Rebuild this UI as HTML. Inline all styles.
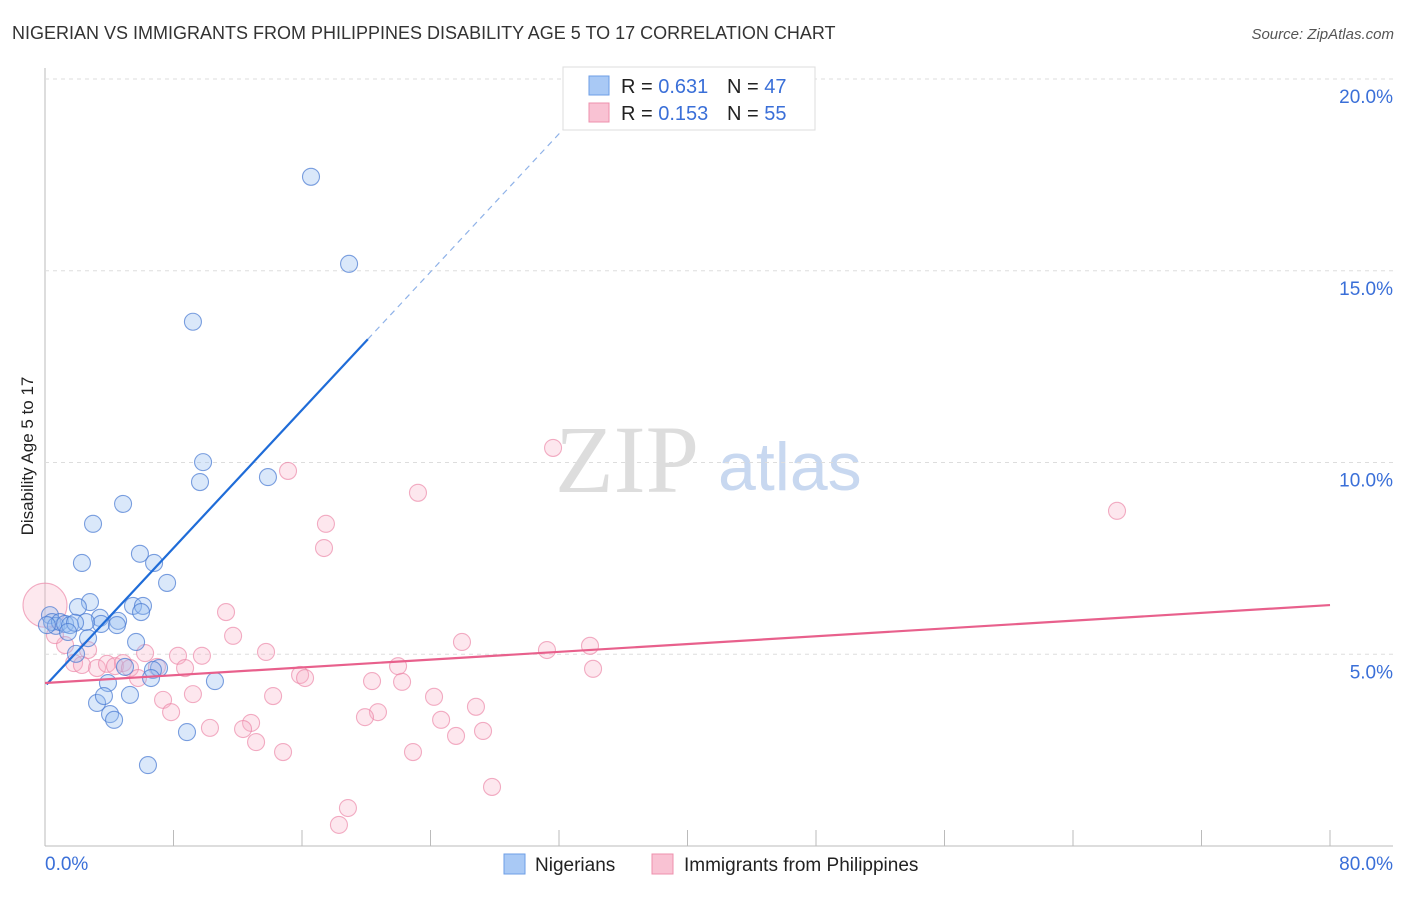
<!DOCTYPE html>
<html><head><meta charset="utf-8"><style>
body{margin:0;background:#fff;font-family:"Liberation Sans",sans-serif}
</style></head><body>
<svg id="c" width="1406" height="892" xmlns="http://www.w3.org/2000/svg">
<text x="12" y="39" font-size="18" fill="#333">NIGERIAN VS IMMIGRANTS FROM PHILIPPINES DISABILITY AGE 5 TO 17 CORRELATION CHART</text>
<text x="1394" y="39" font-size="15" fill="#555" font-style="italic" text-anchor="end">Source: ZipAtlas.com</text>
<text x="33" y="456" font-size="17" fill="#222" transform="rotate(-90 33 456)" text-anchor="middle">Disability Age 5 to 17</text>
<text x="555" y="492" font-size="96" fill="#ddd" font-family="Liberation Serif,serif">ZIP</text>
<text x="718" y="490" font-size="68" fill="#c8d8f0">atlas</text>
<g id="grid"></g><g id="pts"></g><g id="lines"></g>
<g>
<rect x="563" y="67" width="252" height="63" fill="#fff" stroke="#ddd"/>
<rect x="589" y="76" width="20" height="19" fill="#a9c9f5" stroke="#6d9ee6"/>
<rect x="589" y="103" width="20" height="19" fill="#f9c2d3" stroke="#ee90ad"/>
<text x="621" y="93" font-size="20" fill="#222">R = <tspan fill="#3a6fd8">0.631</tspan></text>
<text x="727" y="93" font-size="20" fill="#222">N = <tspan fill="#3a6fd8">47</tspan></text>
<text x="621" y="120" font-size="20" fill="#222">R = <tspan fill="#3a6fd8">0.153</tspan></text>
<text x="727" y="120" font-size="20" fill="#222">N = <tspan fill="#3a6fd8">55</tspan></text>
</g>
<g>
<rect x="504" y="854" width="21" height="20" fill="#a9c9f5" stroke="#6d9ee6"/>
<text x="535" y="871" font-size="19" fill="#222">Nigerians</text>
<rect x="652" y="854" width="21" height="20" fill="#f9c2d3" stroke="#ee90ad"/>
<text x="684" y="871" font-size="19" fill="#222">Immigrants from Philippines</text>
</g>
</svg>
<script>
const xTicks=[0,8,16,24,32,40,48,56,64,72,80];
const yTicks=[5,10,15,20];
const blueX=[16.56,18.93,9.21,9.84,9.65,13.88,4.86,2.99,2.30,5.91,6.79,7.60,2.80,2.05,5.48,6.10,5.98,3.42,4.55,3.49,2.55,4.48,0.31,0.44,0.68,0.93,1.25,1.56,1.87,0.12,1.43,2.68,5.67,1.93,7.10,6.72,4.98,3.92,6.60,10.58,3.24,3.67,5.29,4.05,4.30,8.84,6.41];
const blueY=[17.45,15.18,13.67,10.01,9.49,9.62,8.92,8.40,7.38,7.62,7.38,6.86,6.36,6.23,6.26,6.26,6.10,5.95,5.87,5.79,5.84,5.76,6.02,5.84,5.74,5.84,5.79,5.76,5.82,5.76,5.58,5.42,5.32,5.01,4.64,4.59,4.67,4.25,4.38,4.30,3.73,3.91,3.94,3.44,3.29,2.97,2.11];
const pinkX=[31.63,66.74,15.13,23.22,17.49,17.37,11.27,11.71,25.96,33.93,31.25,13.76,6.23,8.28,9.77,2.68,1.25,0.62,0,1.81,2.30,3.24,3.86,4.36,4.86,5.29,6.97,8.72,5.79,21.98,34.12,15.88,16.19,20.36,22.23,9.21,14.20,24.22,7.35,26.83,7.85,20.73,19.92,24.66,12.83,10.27,12.33,27.27,25.59,13.14,14.82,22.91,27.83,18.86,18.30];
const pinkY=[10.38,8.74,9.78,9.21,8.40,7.77,6.10,5.48,5.32,5.22,5.11,5.06,5.03,4.96,4.96,5.11,5.24,5.50,6.28,4.77,4.72,4.64,4.75,4.69,4.77,4.64,4.67,4.64,4.38,4.69,4.62,4.46,4.38,4.30,4.28,3.96,3.91,3.89,3.81,3.63,3.49,3.49,3.36,3.29,3.21,3.08,3.05,3.00,2.87,2.71,2.45,2.45,1.54,0.99,0.55];
const blueTrend=[4.17,0.45];
const pinkTrend=[4.25,0.0254];
const X=v=>45+v/80*1285, Y=v=>846-v*38.35;
const NS='http://www.w3.org/2000/svg';
function mk(p,t,a){const e=document.createElementNS(NS,t);for(const k in a)e.setAttribute(k,a[k]);p.appendChild(e);return e;}
const g=document.getElementById('grid');
const ax=mk(g,'line',{x1:45,y1:68,x2:45,y2:846,stroke:'#bbb'});


const bx=mk(g,'line',{x1:45,y1:846,x2:1393,y2:846,stroke:'#bbb'});


yTicks.forEach(v=>{
 const l=mk(g,'line',{x1:45,y1:Y(v),x2:1393,y2:Y(v),stroke:'#ddd','stroke-dasharray':'4,4'});
 
 
 const t=mk(g,'text',{x:1393,y:Y(v)+24,'font-size':19,fill:'#3a6fd8','text-anchor':'end'});t.textContent=v.toFixed(1)+'%';
 
 
});
xTicks.forEach(v=>{
 const l=mk(g,'line',{x1:X(v),y1:830,x2:X(v),y2:846,stroke:'#bbb'});
 
 
});
[[0,'0.0%','start',45],[80,'80.0%','end',1393]].forEach(([v,s,a,x])=>{
 const t=mk(g,'text',{x:x,y:870,'font-size':19,fill:'#3a6fd8','text-anchor':a});t.textContent=s;
 
 
});
const p=document.getElementById('pts');
pinkX.forEach((x,i)=>{
 const big=(x===0);
 const c=mk(p,'circle',{cx:X(x),cy:Y(pinkY[i]),r:big?22:8.5,fill:big?'rgba(248,180,200,0.3)':'rgba(248,175,198,0.3)',stroke:'rgba(235,130,165,0.65)','stroke-width':1.1});
 
 
});
blueX.forEach((x,i)=>{
 const c=mk(p,'circle',{cx:X(x),cy:Y(blueY[i]),r:8.5,fill:'rgba(150,188,242,0.35)',stroke:'rgba(70,120,210,0.7)','stroke-width':1.1});
 
 
});
const L=document.getElementById('lines');
const b1=mk(L,'line',{x1:X(0.1),y1:Y(blueTrend[0]+blueTrend[1]*0.1),x2:X(20.1),y2:Y(blueTrend[0]+blueTrend[1]*20.1),stroke:'#1f6cd8','stroke-width':2.2});


const b2=mk(L,'line',{x1:X(20.1),y1:Y(blueTrend[0]+blueTrend[1]*20.1),x2:X(33.9),y2:Y(blueTrend[0]+blueTrend[1]*33.9),stroke:'#8fb2e8','stroke-width':1.2,'stroke-dasharray':'6,5'});


const pl=mk(L,'line',{x1:X(0),y1:Y(pinkTrend[0]),x2:X(80),y2:Y(pinkTrend[0]+pinkTrend[1]*80),stroke:'#e8608c','stroke-width':2.2});


</script>
</body></html>
